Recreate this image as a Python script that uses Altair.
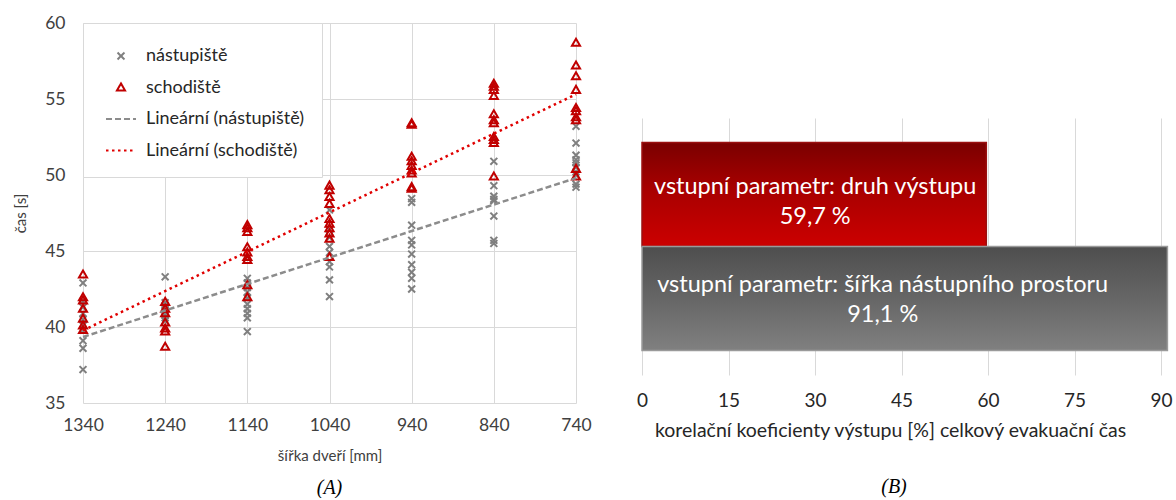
import altair as alt
import pandas as pd

FONT = "Lato"

# ---- panel A: evacuation time vs. door width ----
WIDTHS = [1340, 1240, 1140, 1040, 940, 840, 740]

PLATFORM_TIMES = [
    [42.9, 41.7, 41.3, 40.9, 40.5, 40.1, 39.8, 39.1, 38.6, 37.2],
    [43.3, 41.6, 41.4, 41.2, 41.0, 40.8, 40.6, 40.4, 41.1],
    [43.2, 42.9, 42.6, 42.3, 41.9, 41.5, 41.2, 40.9, 40.6, 39.7],
    [47.7, 46.4, 45.9, 45.3, 44.9, 44.3, 43.95, 43.1, 42.0],
    [48.45, 48.2, 46.7, 45.7, 45.4, 44.8, 44.1, 43.6, 43.2, 42.5],
    [50.9, 49.3, 48.6, 48.4, 48.3, 47.3, 45.7, 45.5],
    [53.2, 52.1, 51.3, 51.0, 50.8, 50.5, 50.2, 50.0, 49.4, 49.2],
]

STAIR_TIMES = [
    [43.45, 41.95, 41.75, 41.2, 40.55, 40.1, 39.8],
    [41.65, 41.2, 40.9, 40.3, 39.9, 39.7, 38.7],
    [46.7, 46.5, 46.25, 45.25, 44.9, 44.6, 44.4, 42.75, 41.95],
    [49.3, 49.0, 48.55, 48.1, 47.1, 46.8, 46.5, 46.15, 45.8, 44.6],
    [53.4, 53.3, 51.2, 50.9, 50.6, 50.3, 50.1, 49.2, 49.1],
    [56.0, 55.8, 55.6, 55.2, 54.0, 53.6, 53.4, 52.5, 52.3, 52.1, 49.9],
    [58.7, 57.2, 56.5, 55.6, 54.4, 54.2, 53.8, 53.6, 50.4, 49.9],
]

SERIES = ["nástupiště", "schodiště"]
TRENDS = ["Lineární (nástupiště)", "Lineární (schodiště)"]
Y_TICKS = [35, 40, 45, 50, 55, 60]

# ---- panel B: correlation coefficients ----
PARAMS = [
    "vstupní parametr: druh výstupu",
    "vstupní parametr: šířka nástupního prostoru",
]
CORR = [59.7, 91.1]
X_TICKS_B = [0, 15, 30, 45, 60, 75, 90]

rows = []
for name, table in zip(SERIES, [PLATFORM_TIMES, STAIR_TIMES]):
    for w, times in zip(WIDTHS, table):
        for t in times:
            rows.append({"width": w, "time": t, "series": name})
scatter_df = pd.DataFrame(rows)

legend_domain = SERIES + TRENDS
SYMBOL_SIZE = 900
X_PATH = "M-0.23,-0.23L0.23,0.23M-0.23,0.23L0.23,-0.23"
TRI_PATH = "M0,-0.27L0.27,0.2L-0.27,0.2Z"

color_scale = alt.Scale(domain=legend_domain,
                        range=["#7f7f7f", "#c00000", "#8c8c8c", "#e00000"])
shape_scale = alt.Scale(domain=legend_domain,
                        range=[X_PATH, TRI_PATH, "stroke", "stroke"])
dash_scale = alt.Scale(domain=legend_domain,
                       range=[[1, 0], [1, 0], [6, 3], [2.5, 3.5]])

legend = alt.Legend(
    title=None, orient="none", legendX=0, legendY=0,
    fillColor="white", strokeColor="#d9d9d9", padding=17,
    labelFont=FONT, labelFontSize=18, labelColor="#262626", labelLimit=400,
    symbolSize=SYMBOL_SIZE, symbolStrokeWidth=2, rowPadding=6.5,
    labelOffset=9, symbolOffset=5,
)

x_a = alt.X(
    "width:Q",
    scale=alt.Scale(domain=[740, 1340], reverse=True, nice=False, zero=False),
    axis=alt.Axis(values=WIDTHS, format="d", title="šířka dveří [mm]",
                  gridColor="#d9d9d9", domain=False, ticks=False,
                  labelFlush=False,
                  labelFont=FONT, labelFontSize=17.5, labelColor="#404040",
                  labelPadding=13, titleFont=FONT, titleFontSize=15,
                  titleFontWeight="normal", titleColor="#404040",
                  titlePadding=15),
)
y_a = alt.Y(
    "time:Q",
    scale=alt.Scale(domain=[35, 60], nice=False, zero=False),
    axis=alt.Axis(values=Y_TICKS, title="čas [s]",
                  gridColor="#d9d9d9", domain=False, ticks=False,
                  labelFont=FONT, labelFontSize=17.5, labelColor="#404040",
                  labelPadding=18, titleFont=FONT, titleFontSize=15,
                  titleFontWeight="normal", titleColor="#404040",
                  titlePadding=16),
)

points = alt.Chart(scatter_df).mark_point(
    size=SYMBOL_SIZE, filled=False, strokeWidth=2, opacity=1
).encode(
    x=x_a, y=y_a,
    color=alt.Color("series:N", scale=color_scale, legend=legend),
    shape=alt.Shape("series:N", scale=shape_scale, legend=legend),
)

trend = alt.Chart(scatter_df).transform_regression(
    "width", "time", groupby=["series"]
).transform_calculate(
    trend="'Lineární (' + datum.series + ')'"
).mark_line(strokeWidth=2.5).encode(
    x="width:Q", y="time:Q",
    color=alt.Color("trend:N", scale=color_scale, legend=legend),
    strokeDash=alt.StrokeDash("trend:N", scale=dash_scale, legend=legend),
)

panel_a = alt.layer(points, trend).properties(
    width=493, height=380,
    title=alt.TitleParams("(A)", orient="bottom", font="Liberation Serif",
                          fontStyle="italic", fontWeight="normal",
                          fontSize=20, color="black", offset=14,
                          frame="group"),
)

# ---- panel B ----
bar_df = pd.DataFrame({"param": PARAMS, "value": CORR})
base_b = alt.Chart(bar_df).transform_calculate(
    label="replace(format(datum.value, '.1f'), '.', ',') + ' %'",
    mid="datum.value / 2",
).transform_calculate(
    lines="[datum.param, datum.label]"
)

x_b = alt.X(
    "value:Q",
    scale=alt.Scale(domain=[0, 91.2], nice=False),
    axis=alt.Axis(values=X_TICKS_B,
                  title="korelační koeficienty výstupu [%] celkový evakuační čas",
                  gridColor="#d9d9d9", domain=False, ticks=False,
                  labelFlush=False, titleX=248,
                  labelFont=FONT, labelFontSize=19, labelColor="#262626",
                  labelPadding=16, titleFont=FONT, titleFontSize=19.5,
                  titleFontWeight="normal", titleColor="#262626",
                  titlePadding=11),
)
y_b = alt.Y("param:N", sort=PARAMS,
            scale=alt.Scale(paddingInner=0, paddingOuter=0.235), axis=None)

red_grad = alt.Gradient(
    gradient="linear", x1=0, x2=0, y1=0, y2=1,
    stops=[alt.GradientStop(color="#7a0000", offset=0),
           alt.GradientStop(color="#a80000", offset=0.45),
           alt.GradientStop(color="#cc0000", offset=1)],
)
gray_grad = alt.Gradient(
    gradient="linear", x1=0, x2=0, y1=0, y2=1,
    stops=[alt.GradientStop(color="#4e4e4e", offset=0),
           alt.GradientStop(color="#666666", offset=0.5),
           alt.GradientStop(color="#808080", offset=1)],
)

first = alt.FieldEqualPredicate(field="param", equal=PARAMS[0])
second = alt.FieldEqualPredicate(field="param", equal=PARAMS[1])

bar_red = base_b.transform_filter(first).mark_bar(
    color=red_grad, stroke="#9a1010", strokeWidth=1.5
).encode(x=x_b, y=y_b)
bar_gray = base_b.transform_filter(second).mark_bar(
    color=gray_grad, stroke="#9a9a9a", strokeWidth=1.5
).encode(x=x_b, y=y_b)

text_style = dict(color="white", font=FONT, fontSize=23.5, lineHeight=30,
                  align="center", baseline="middle")
text_red = base_b.transform_filter(first).mark_text(dy=-7, dx=1, **text_style).encode(
    x="mid:Q", y=y_b, text="lines:N")
text_gray = base_b.transform_filter(second).mark_text(dy=-14, dx=-22, **text_style).encode(
    x="mid:Q", y=y_b, text="lines:N")

panel_b_inner = alt.layer(bar_red, bar_gray, text_red, text_gray).properties(
    width=526, height=257,
    title=alt.TitleParams("(B)", orient="bottom", font="Liberation Serif",
                          fontStyle="italic", fontWeight="normal",
                          fontSize=20, color="black", offset=37,
                          frame="group", dx=-11),
)

# empty band that pushes panel B's plot below the top of panel A
spacer = alt.Chart(bar_df).mark_text(text="", opacity=0).properties(
    width=526, height=95
)
panel_b = alt.vconcat(spacer, panel_b_inner, spacing=0)

chart = alt.hconcat(panel_a, panel_b, spacing=44).properties(
    padding={"left": 13, "top": 14, "right": 0, "bottom": 0}
).configure_view(stroke=None)

chart.save("out.html", embed_options={"renderer": "svg", "actions": False})
